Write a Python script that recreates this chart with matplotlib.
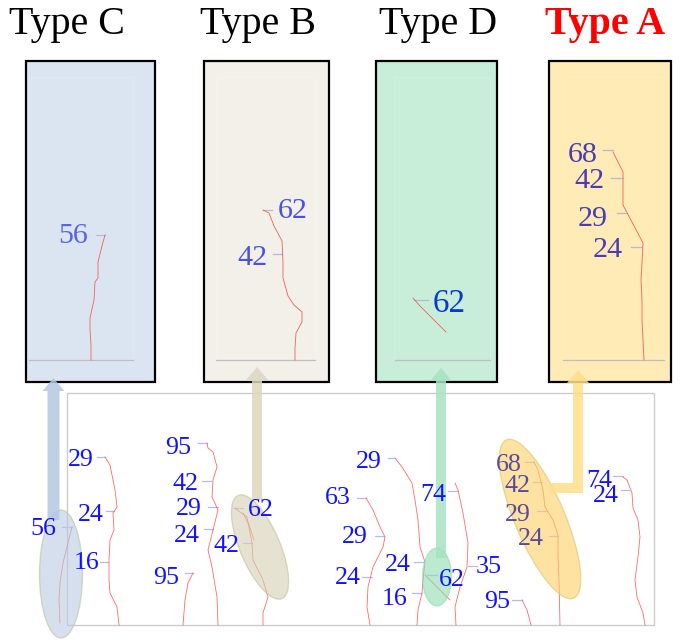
import matplotlib
matplotlib.use("Agg")
import matplotlib.pyplot as plt
from matplotlib.patches import Rectangle, Ellipse, Polygon

SERIF = ["Liberation Serif", "DejaVu Serif"]

# ---------------- data ----------------
type_names = ["Type C", "Type B", "Type D", "Type A"]
type_title_x = [67, 258, 438, 605]
type_title_colors = ["black", "black", "black", "#ff0000"]
type_title_weights = ["normal", "normal", "normal", "bold"]

box_x0 = [26, 204, 376, 549]
box_x1 = [155, 329, 497, 671]
box_colors = ["#dbe5f1", "#f2f0e8", "#c8eed9", "#ffebb5"]
box_label_colors = ["#5a64e6", "#4b50e6", "#0a3acc", "#4a3cb4"]
box_base_x0 = [29, 216, 395, 563]
box_base_x1 = [133, 315, 490, 664]

# labels inside the four boxes (text, x, y)
boxC_labels = ["56"]
boxC_xy = [(73, 233)]
boxC_ticks = [(96, 105, 235)]
boxC_crack = [(105, 235), (102, 246), (99, 258), (98, 262), (98, 278), (95, 282),
              (94, 300), (90, 318), (90, 330), (91, 345), (91, 360)]

boxB_labels = ["62", "42"]
boxB_xy = [(293, 208), (252, 255)]
boxB_ticks = [(263, 272, 210), (273, 282, 254)]
boxB_crack = [(263, 210), (269, 213), (274, 226), (282, 241), (283, 262), (283, 278),
              (288, 296), (294, 305), (302, 312), (302, 322), (296, 333), (295, 348), (295, 360)]

boxD_labels = ["62"]
boxD_xy = [(449, 301)]
boxD_ticks = [(414, 428, 300)]
boxD_crack = [(413, 298), (420, 306), (432, 318), (446, 332)]

boxA_labels = ["68", "42", "29", "24"]
boxA_xy = [(583, 152), (589, 178), (593, 216), (608, 247)]
boxA_ticks = [(603, 613, 150), (611, 623, 178), (617, 626, 213), (631, 642, 247)]
boxA_crack = [(613, 152), (618, 162), (623, 172), (623, 190), (623, 205), (633, 224),
              (643, 243), (642, 262), (641, 280), (642, 300), (642, 320), (643, 340), (644, 360)]

# labels in the bottom panel
bottom_labels = ["29", "24", "16", "56", "95", "42", "29", "24", "42", "62", "95",
                 "29", "63", "29", "24", "24", "16", "74", "62", "35", "95",
                 "68", "42", "29", "24", "74", "24"]
bottom_label_x = [81, 91, 87, 43, 178, 185, 189, 187, 226, 261, 166,
                  369, 338, 355, 348, 398, 395, 433, 452, 489, 497,
                  509, 517, 518, 531, 599, 606]
bottom_label_y = [457, 512, 560, 526, 445, 481, 506, 533, 543, 507, 575,
                  459, 495, 534, 575, 562, 596, 492, 577, 564, 599,
                  462, 483, 512, 536, 478, 493]
bottom_tick_x0 = [97, 106, 100, 62, 198, 202, 208, 204, 243, 234, 185,
                  388, 357, 375, 362, 414, 412, 448, 427, 468, 512,
                  525, 533, 537, 549, 613, 621]
bottom_tick_x1 = [105, 114, 108, 72, 207, 211, 218, 213, 252, 243, 193,
                  395, 366, 384, 372, 423, 422, 457, 437, 477, 522,
                  534, 542, 547, 558, 623, 629]
bottom_tick_y = [457, 511, 562, 527, 443, 481, 507, 529, 543, 508, 573,
                 458, 498, 536, 577, 562, 593, 491, 575, 566, 600,
                 462, 482, 511, 536, 476, 490]

bottom_cracks = [
    [(72, 527), (67, 547), (63, 563), (60, 583), (59, 600), (60, 623)],
    [(105, 457), (110, 465), (115, 490), (117, 507), (113, 513), (114, 530), (110, 540),
     (109, 560), (109, 580), (110, 593), (117, 607), (119, 625)],
    [(207, 443), (208, 448), (213, 452), (217, 467), (213, 480), (212, 497), (218, 510),
     (213, 530), (208, 550), (212, 567), (217, 597), (218, 625)],
    [(193, 573), (188, 583), (185, 600), (183, 625)],
    [(235, 508), (240, 512), (247, 517), (252, 543), (253, 560), (263, 580), (268, 597),
     (263, 613), (263, 625)],
    [(243, 513), (249, 525), (254, 540)],
    [(366, 498), (373, 510), (380, 527), (385, 537), (383, 547), (373, 567), (368, 587),
     (367, 607), (370, 625)],
    [(395, 458), (402, 467), (412, 483), (415, 500), (418, 520), (420, 547), (425, 562),
     (423, 580), (422, 593), (418, 610), (417, 625)],
    [(425, 575), (433, 583), (442, 592), (450, 600)],
    [(455, 483), (458, 490), (463, 513), (468, 543), (467, 567), (460, 587), (455, 607),
     (456, 625)],
    [(522, 600), (527, 610), (531, 625)],
    [(534, 462), (538, 470), (543, 490), (545, 507), (553, 520), (558, 535), (558, 557),
     (559, 580), (560, 625)],
    [(623, 477), (627, 480), (632, 493), (633, 508), (638, 520), (640, 537), (638, 557),
     (635, 580), (637, 597), (643, 613), (645, 625)],
]

# highlight ellipses (cx, cy, width, height, angle, face, edge, colour of text seen through)
ell_cx = [61, 260, 437, 540]
ell_cy = [574, 547, 577, 519]
ell_w = [43, 40, 29, 50]
ell_h = [128, 112, 58, 172]
ell_angle = [0, -23, 0, -23]
ell_face = ["#b9cbe3", "#d6d0b4", "#8fdcb2", "#fdd064"]
ell_edge = ["#b8c89c", "#c4c49c", "#8fdcb2", "#d8c870"]
ell_text = ["#3044e0", "#4848d8", "#1438c8", "#5a4a9c"]

# arrows
arrow_colors = ["#b4c8e2", "#dcd7c0", "#a6e2c2", "#ffdf8a"]

# ---------------- drawing ----------------
fig = plt.figure(figsize=(6.85, 6.41), dpi=100)
ax = fig.add_axes([0, 0, 1, 1])
ax.set_xlim(0, 685)
ax.set_ylim(641, 0)
ax.axis("off")


def px2pt(px):
    return px * 0.72


def num(x, y, s, color, em, z=5):
    # y is the vertical centre of the digits
    return ax.text(x, y + 0.34 * em, s, color=color, fontsize=px2pt(em), family=SERIF,
                   ha="center", va="baseline", zorder=z)


# titles
for name, x, c, w in zip(type_names, type_title_x, type_title_colors, type_title_weights):
    ax.text(x, 20 + 0.34 * 40, name, color=c, fontsize=px2pt(40), family=SERIF,
            fontweight=w, ha="center", va="baseline", zorder=6)

# bottom panel frame
ax.add_patch(Rectangle((67.5, 392.5), 587, 232.5, fill=False, ec="#cccccc", lw=1.0, zorder=1))

# arrows (drawn under boxes)
def vert_arrow(xc, ybot, ytip, color, hw=5, hhw=11, hl=13):
    pts = [(xc - hw, ybot), (xc - hw, ytip + hl), (xc - hhw, ytip + hl), (xc, ytip),
           (xc + hhw, ytip + hl), (xc + hw, ytip + hl), (xc + hw, ybot)]
    ax.add_patch(Polygon(pts, closed=True, fc=color, ec="none", alpha=0.85, zorder=4))

vert_arrow(53.5, 520, 378, arrow_colors[0], hw=6, hhw=11)
vert_arrow(257, 500, 367, arrow_colors[1])
vert_arrow(441, 558, 368, arrow_colors[2])
yel = [(549, 483), (573, 483), (573, 383), (567, 383), (578, 370), (589, 383), (583, 383),
       (583, 493), (549, 493)]
ax.add_patch(Polygon(yel, closed=True, fc=arrow_colors[3], ec="none", alpha=0.85, zorder=4))

# boxes
for x0, x1, fc, bx0, bx1 in zip(box_x0, box_x1, box_colors, box_base_x0, box_base_x1):
    ax.add_patch(Rectangle((x0, 60.5), x1 - x0, 321, fc=fc, ec="black", lw=1.6, zorder=3))
    ax.add_patch(Rectangle((bx0, 77), bx1 - bx0, 283, fill=False, ec="white", lw=0.8,
                           alpha=0.15, zorder=3))
    ax.plot([bx0, bx1], [360, 360], color="#c4bcc4", lw=0.9, zorder=3.5)

box_sets = [
    (boxC_labels, boxC_xy, boxC_ticks, boxC_crack, box_label_colors[0], 30),
    (boxB_labels, boxB_xy, boxB_ticks, boxB_crack, box_label_colors[1], 30),
    (boxD_labels, boxD_xy, boxD_ticks, boxD_crack, box_label_colors[2], 33),
    (boxA_labels, boxA_xy, boxA_ticks, boxA_crack, box_label_colors[3], 30),
]
for labels, xy, ticks, crack, col, em in box_sets:
    for s, (x, y) in zip(labels, xy):
        num(x, y, s, col, em)
    for (tx0, tx1, ty) in ticks:
        ax.plot([tx0, tx1], [ty, ty], color="#b8b8d8", lw=0.9, zorder=4)
    cx, cy = zip(*crack)
    ax.plot(cx, cy, color="#f06060", lw=0.6, zorder=4)

# bottom panel ticks and cracks
for x0, x1, y in zip(bottom_tick_x0, bottom_tick_x1, bottom_tick_y):
    ax.plot([x0, x1], [y, y], color="#b8b8f4", lw=0.9, zorder=2)
for crack in bottom_cracks:
    cx, cy = zip(*crack)
    ax.plot(cx, cy, color="#ff5a5a", lw=0.6, alpha=0.9, zorder=2)

# highlight ellipses; labels lying inside one are seen through it with a tinted colour
ellipses = []
for cx, cy, w, h, a, fc, ec in zip(ell_cx, ell_cy, ell_w, ell_h, ell_angle, ell_face, ell_edge):
    e = Ellipse((cx, cy), w, h, angle=a, fc=fc, ec=ec, lw=1.0, alpha=0.6, zorder=3)
    ax.add_patch(e)
    ellipses.append(e)

for s, x, y in zip(bottom_labels, bottom_label_x, bottom_label_y):
    col, z = "#1212ff", 4.5
    p = ax.transData.transform((x, y))
    for e, tc in zip(ellipses, ell_text):
        if e.contains_point(p):
            col, z = tc, 3.2
    num(x, y, s, col, 26, z=z)

fig.savefig("out.png", dpi=100)
